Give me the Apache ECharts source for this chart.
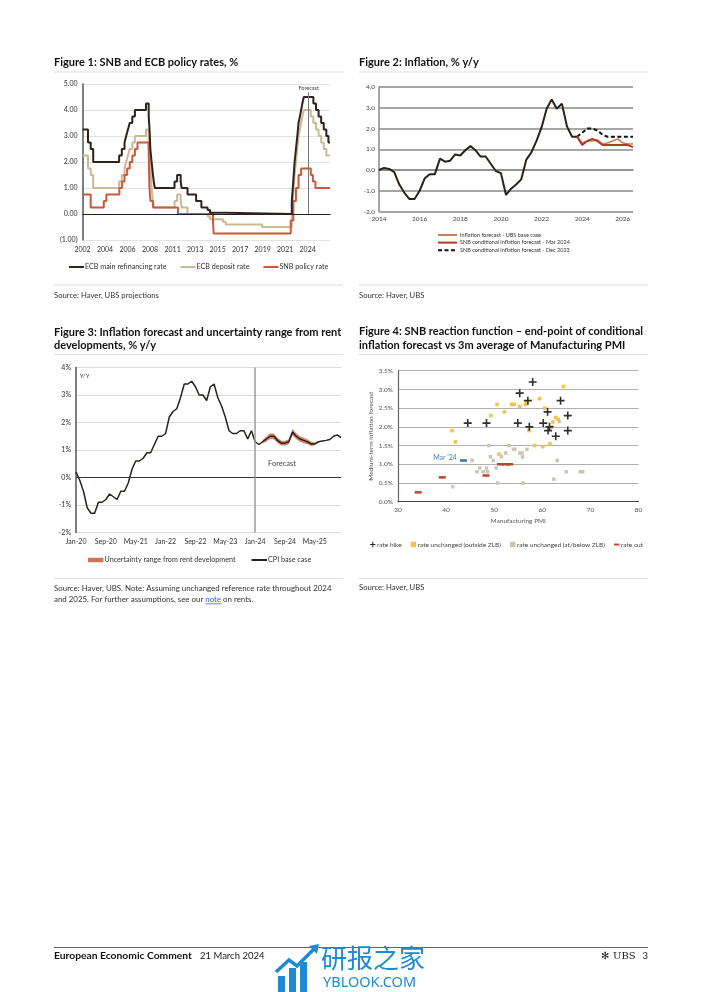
<!DOCTYPE html>
<html><head><meta charset="utf-8">
<script src="https://cdn.jsdelivr.net/npm/echarts@6/dist/echarts.min.js"></script>
<style>html,body{margin:0;padding:0;background:#fff}#c{width:702px;height:992px}</style>
</head><body><div id="c"></div>
<script>
// ================= Figure 1: policy rates [decimal year, rate %] at each change =================
const ecbMainRate = [
[2002.40,3.25],[2002.93,2.75],[2003.19,2.50],[2003.43,2.00],[2005.93,2.25],[2006.19,2.50],[2006.45,2.75],
[2006.61,3.00],[2006.78,3.25],[2006.95,3.50],[2007.20,3.75],[2007.45,4.00],[2008.52,4.25],[2008.78,3.75],
[2008.86,3.25],[2008.94,2.50],[2009.06,2.00],[2009.19,1.50],[2009.27,1.25],[2009.37,1.00],[2011.27,1.25],
[2011.52,1.50],[2011.86,1.25],[2011.95,1.00],[2012.52,0.75],[2013.35,0.50],[2013.86,0.25],[2014.45,0.15],
[2014.69,0.05],[2016.20,0.00],[2022.57,0.50],[2022.71,1.25],[2022.84,2.00],[2022.97,2.50],[2023.10,3.00],
[2023.22,3.50],[2023.35,3.75],[2023.47,4.00],[2023.59,4.25],[2023.72,4.50],[2024.65,4.25],[2024.90,4.00],
[2025.15,3.75],[2025.40,3.50],[2025.65,3.25],[2025.90,3.00],[2026.10,2.75],[2026.25,2.75]
];
const ecbDepositRate = [
[2002.40,2.25],[2002.93,1.75],[2003.19,1.50],[2003.43,1.00],[2005.93,1.25],[2006.19,1.50],[2006.45,1.75],
[2006.61,2.00],[2006.78,2.25],[2006.95,2.50],[2007.20,2.75],[2007.45,3.00],[2008.52,3.25],[2008.78,2.75],
[2008.94,2.00],[2009.06,1.00],[2009.19,0.50],[2009.27,0.25],[2011.27,0.50],[2011.52,0.75],[2011.86,0.50],
[2011.95,0.25],[2012.52,0.00],[2014.45,-0.10],[2014.69,-0.20],[2015.94,-0.30],[2016.20,-0.40],[2019.71,-0.50],
[2022.57,0.00],[2022.71,0.75],[2022.84,1.50],[2022.97,2.00],[2023.10,2.50],[2023.22,3.00],[2023.35,3.25],
[2023.47,3.50],[2023.59,3.75],[2023.72,4.00],[2024.40,3.75],[2024.65,3.50],[2024.90,3.25],[2025.15,3.00],
[2025.40,2.75],[2025.65,2.50],[2025.90,2.25],[2026.25,2.25]
];
const snbPolicyRate = [
[2002.40,0.75],[2003.19,0.25],[2004.45,0.50],[2004.70,0.75],[2005.95,1.00],[2006.20,1.25],[2006.45,1.50],
[2006.70,1.75],[2006.95,2.00],[2007.20,2.25],[2007.45,2.50],[2007.70,2.75],[2008.77,2.50],[2008.80,2.00],
[2008.85,1.00],[2008.95,0.50],[2009.20,0.25],[2011.60,0.00],[2014.97,-0.25],[2015.04,-0.75],[2022.47,-0.25],
[2022.72,0.50],[2022.97,1.00],[2023.22,1.50],[2023.47,1.75],[2024.40,1.50],[2024.60,1.25],[2024.85,1.00],
[2026.25,1.00]
];
const fig1TickLabels = ['2002','2004','2006','2008','2011','2013','2015','2017','2019','2021','2024'];
const fig1AxisStart = 2002.4, fig1TickStep = 2.17;
const fig1ForecastStart = 2024.2;

// ================= Figure 2: inflation % y/y, quarterly [decimal year, value] =================
const cpiActualQ = [
[2014.00,0.0],[2014.25,0.1],[2014.50,0.05],[2014.75,-0.1],[2015.00,-0.7],[2015.25,-1.1],[2015.50,-1.4],
[2015.75,-1.4],[2016.00,-1.0],[2016.25,-0.4],[2016.50,-0.2],[2016.75,-0.2],[2017.00,0.55],[2017.25,0.4],
[2017.50,0.45],[2017.75,0.75],[2018.00,0.7],[2018.25,0.95],[2018.50,1.15],[2018.75,0.95],[2019.00,0.65],
[2019.25,0.65],[2019.50,0.3],[2019.75,-0.05],[2020.00,-0.15],[2020.25,-1.2],[2020.50,-0.9],[2020.75,-0.7],
[2021.00,-0.45],[2021.25,0.5],[2021.50,0.85],[2021.75,1.4],[2022.00,2.05],[2022.25,2.95],[2022.50,3.4],
[2022.75,2.95],[2023.00,3.2],[2023.25,2.1],[2023.50,1.6],[2023.75,1.6]
];
const ubsBaseCase = [
[2023.75,1.6],[2024.00,1.3],[2024.25,1.4],[2024.50,1.4],[2024.75,1.45],[2025.00,1.25],[2025.25,1.3],
[2025.50,1.4],[2025.75,1.5],[2026.00,1.3],[2026.25,1.25],[2026.50,1.25]
];
const snbMar2024 = [
[2023.75,1.6],[2024.00,1.2],[2024.25,1.4],[2024.50,1.5],[2024.75,1.4],[2025.00,1.2],[2025.25,1.2],
[2025.50,1.2],[2025.75,1.2],[2026.00,1.2],[2026.25,1.2],[2026.50,1.1]
];
const snbDec2023 = [
[2023.75,1.6],[2024.00,1.8],[2024.25,2.0],[2024.50,2.0],[2024.75,1.9],[2025.00,1.7],[2025.25,1.6],
[2025.50,1.6],[2025.75,1.6],[2026.00,1.6],[2026.25,1.6],[2026.50,1.6]
];

// ================= Figure 3: monthly CPI base case and rent uncertainty range =================
const monthAbbr = ['Jan','Feb','Mar','Apr','May','Jun','Jul','Aug','Sep','Oct','Nov','Dec'];
const fig3Years = ['20','21','22','23','24','25'];
const fig3Months = [];
fig3Years.forEach(y => monthAbbr.forEach(m => fig3Months.push(m + '-' + y)));
const cpiBaseCase = [
0.2,-0.1,-0.5,-1.1,-1.3,-1.3,-0.9,-0.9,-0.8,-0.6,-0.7,-0.8,
-0.5,-0.5,-0.2,0.3,0.6,0.6,0.7,0.9,0.9,1.2,1.5,1.5,
1.6,2.2,2.4,2.5,2.9,3.4,3.4,3.5,3.3,3.0,3.0,2.8,
3.3,3.4,2.9,2.6,2.2,1.7,1.6,1.6,1.7,1.7,1.4,1.7,
1.3,1.2,1.3,1.4,1.5,1.5,1.35,1.25,1.25,1.3,1.65,1.5,
1.4,1.35,1.3,1.22,1.22,1.3,1.33,1.35,1.38,1.5,1.55,1.45
];
const rentBandMonths = ['Mar-24','Apr-24','May-24','Jun-24','Jul-24','Aug-24','Sep-24','Oct-24','Nov-24','Dec-24','Jan-25','Feb-25','Mar-25','Apr-25','May-25','Jun-25'];
const rentBandLow  = [1.24,1.31,1.40,1.39,1.25,1.16,1.16,1.21,1.54,1.40,1.30,1.25,1.21,1.15,1.17,1.27];
const rentBandHigh = [1.36,1.49,1.60,1.60,1.45,1.34,1.34,1.39,1.76,1.61,1.50,1.45,1.39,1.30,1.27,1.33];
const fig3ForecastStart = 'Jan-24';

// ================= Figure 4: [3m avg manufacturing PMI, medium-term inflation forecast %] =================
const rateHike = [
[44.5,2.1],[48.4,2.1],[55.3,2.9],[58.0,3.2],[57.0,2.7],[54.9,2.1],[57.3,2.0],[61.1,2.4],[63.8,2.7],
[60.2,2.1],[61.5,2.0],[61.2,1.9],[62.8,1.75],[65.3,2.3],[65.3,1.9]
];
const unchangedOutsideZLB = [
[41.2,1.9],[41.9,1.6],[49.3,2.3],[50.6,2.6],[52.1,2.4],[53.6,2.6],[54.2,2.6],[55.3,2.55],[56.5,2.6],
[56.8,2.65],[57.2,1.9],[58.4,1.5],[59.4,2.75],[60.1,1.47],[60.5,2.5],[61.6,1.55],[62.0,2.0],[62.2,2.13],
[62.8,2.25],[63.3,2.2],[64.4,3.08],[51.0,1.27]
];
const unchangedAtZLB = [
[41.4,0.4],[45.4,1.1],[46.4,0.8],[47.0,0.9],[47.7,0.8],[48.4,0.9],[48.6,0.8],[48.9,1.5],[49.2,1.2],
[49.8,1.1],[50.4,0.9],[50.7,0.5],[51.5,1.2],[52.4,1.3],[53.1,1.5],[54.0,1.4],[54.3,1.4],[55.3,1.3],
[55.8,1.3],[55.9,1.2],[56.0,0.5],[56.8,1.4],[62.4,0.6],[63.1,1.1],[63.5,2.14],[65.0,0.8],[67.9,0.8],[68.4,0.8]
];
const rateCut = [[34.2,0.25],[39.2,0.65],[48.3,0.7],[51.3,1.0],[52.4,1.0],[53.2,1.0]];
const latestPoint = [[43.6,1.1]];
const latestLabel = "Mar '24";

// ================= chart =================
const FONT = 'Lato';
const C = {
  ecbMain:'#2e231d', ecbDep:'#cbb994', snb:'#c65a3b',
  infl:'#2a221d', ubs:'#c98058', snbMar:'#ad3d25', dec:'#111',
  band:'#d07456', hike:'#2f2f2f', outside:'#f3c246', zlb:'#cdc4b8', cut:'#b5472c', mar:'#3e6ea7'
};
const chart = echarts.init(document.getElementById('c'), null, {renderer:'canvas'});

function txt(x, y, text, size, opts) {
  opts = opts || {};
  return { type:'text', x:x, y:y, silent:true, style:Object.assign({
    text:text, fill:opts.color || '#111', fontSize:size, fontFamily:opts.family || FONT,
    fontWeight:opts.weight || 'normal', align:opts.align || 'left', verticalAlign:'middle',
    textAlign:opts.align || 'left', textVerticalAlign:'middle'
  }, opts.extra || {}) };
}
function hline(x1, x2, y, color, w) {
  return { type:'line', silent:true, shape:{x1:x1, y1:y, x2:x2, y2:y}, style:{stroke:color, lineWidth:w || 1} };
}

// underline position for "note" link (text measurement only)
const SRC3 = 7.9;
const ctx = document.createElement('canvas').getContext('2d');
ctx.font = SRC3 + 'px ' + FONT;
const srcPre = 'and 2025. For further assumptions, see our ';
const noteX = 54 + ctx.measureText(srcPre).width;
const noteW = ctx.measureText('note').width;

const axisLabelBase = {color:'#333', fontFamily:FONT};
const hideSym = {opacity:0};

const option = {
  animation:false,
  textStyle:{fontFamily:FONT},
  grid:[
    {left:82.5, top:84, width:248, height:156},
    {left:379, top:87, width:254, height:124.5},
    {left:76, top:367.5, width:265, height:165},
    {left:398, top:370.7, width:240.5, height:131}
  ],
  xAxis:[
    {gridIndex:0, type:'value', min:fig1AxisStart, max:2026.3, interval:fig1TickStep,
     axisLine:{show:false}, axisTick:{show:false}, splitLine:{show:false},
     axisLabel:Object.assign({}, axisLabelBase, {fontSize:7, margin:6, showMaxLabel:false,
       formatter:function(v){ const k = Math.round((v - fig1AxisStart)/fig1TickStep);
         return (Math.abs(v - (fig1AxisStart + k*fig1TickStep)) < 0.01 && fig1TickLabels[k]) || ''; }})},
    {gridIndex:1, type:'value', min:2014, max:2026.5, interval:2,
     axisLine:{show:true, lineStyle:{color:'#8a8a8a', width:1.5}}, axisTick:{show:false}, splitLine:{show:false},
     axisLabel:Object.assign({}, axisLabelBase, {fontSize:6.5, margin:4, color:'#444',
       formatter:function(v){ return v % 2 === 0 ? String(v) : ''; }})},
    {gridIndex:2, type:'category', data:fig3Months, boundaryGap:false,
     axisLine:{show:false}, axisTick:{show:false}, splitLine:{show:false},
     axisLabel:Object.assign({}, axisLabelBase, {fontSize:7, margin:6, interval:7, color:'#333'})},
    {gridIndex:3, type:'value', min:30, max:80, interval:10,
     axisLine:{show:true, onZero:false, lineStyle:{color:'#444', width:1.2}}, axisTick:{show:false}, splitLine:{show:false},
     axisLabel:Object.assign({}, axisLabelBase, {fontSize:6.5, margin:5, color:'#555'}),
     name:'Manufacturing PMI', nameLocation:'middle', nameGap:16,
     nameTextStyle:{fontSize:6.5, color:'#555', fontFamily:FONT}}
  ],
  yAxis:[
    {gridIndex:0, type:'value', min:-1, max:5, interval:1,
     axisLine:{show:true, lineStyle:{color:'#555', width:1.5}}, axisTick:{show:false},
     splitLine:{lineStyle:{color:'#e2e2e2', width:1}},
     axisLabel:Object.assign({}, axisLabelBase, {fontSize:7, margin:5,
       formatter:function(v){ return v < 0 ? '(' + (-v).toFixed(2) + ')' : v.toFixed(2); }})},
    {gridIndex:1, type:'value', min:-2, max:4, interval:1,
     axisLine:{show:true, lineStyle:{color:'#8a8a8a', width:1.5}}, axisTick:{show:false},
     splitLine:{lineStyle:{color:'#8a8a8a', width:1.5}},
     axisLabel:Object.assign({}, axisLabelBase, {fontSize:6.5, margin:4, color:'#444',
       formatter:function(v){ return v.toFixed(1); }})},
    {gridIndex:2, type:'value', min:-2, max:4, interval:1,
     axisLine:{show:true, lineStyle:{color:'#555', width:1.5}}, axisTick:{show:false},
     splitLine:{lineStyle:{color:'#dadada', width:1}},
     axisLabel:Object.assign({}, axisLabelBase, {fontSize:7, margin:5, formatter:'{value}%'})},
    {gridIndex:3, type:'value', min:0, max:3.5, interval:0.5,
     axisLine:{show:true, lineStyle:{color:'#666', width:1.2}}, axisTick:{show:false},
     splitLine:{lineStyle:{color:'#b0b0b0', width:1}},
     axisLabel:Object.assign({}, axisLabelBase, {fontSize:6.5, margin:5, color:'#555',
       formatter:function(v){ return v.toFixed(1) + '%'; }}),
     name:'Medium-term inflation forecast', nameLocation:'middle', nameGap:22, nameRotate:90,
     nameTextStyle:{fontSize:6.5, color:'#555', fontFamily:FONT}}
  ],
  legend:[
    {left:68, top:263, itemWidth:15, itemHeight:10, itemGap:13, padding:0, itemStyle:hideSym,
     textStyle:{fontSize:7.2, color:'#333', fontFamily:FONT, padding:[0,0,0,-4]},
     data:['ECB main refinancing rate','ECB deposit rate','SNB policy rate']},
    {left:437, top:232, orient:'vertical', itemWidth:19, itemHeight:6, itemGap:1.6, padding:0, itemStyle:hideSym,
     textStyle:{fontSize:5.5, color:'#333', fontFamily:FONT, padding:[0,0,0,-2]},
     data:['Inflation forecast - UBS base case','SNB conditional inflation forecast - Mar 2024','SNB conditional inflation forecast - Dec 2023']},
    {left:88, top:556.5, itemWidth:15.5, itemHeight:4.5, itemGap:15, padding:0,
     textStyle:{fontSize:7.2, color:'#333', fontFamily:FONT, padding:[0,0,0,-4]},
     data:[{name:'Uncertainty range from rent development', icon:'rect', itemStyle:{color:C.band}},
           {name:'CPI base case', itemStyle:hideSym}]},
    {left:370, top:541, itemWidth:5.5, itemHeight:5.5, itemGap:9, padding:0,
     textStyle:{fontSize:6.5, color:'#444', fontFamily:FONT, padding:[0,0,0,-3.5]},
     data:['rate hike','rate unchanged (outside ZLB)','rate unchanged (at/below ZLB)',
       {name:'rate cut', icon:'path://M0,0H12V4H0Z'}]}
  ],
  series:[
    // ---- Figure 1 ----
    {name:'ECB deposit rate', type:'line', xAxisIndex:0, yAxisIndex:0, step:'end', symbol:'none',
     data:ecbDepositRate, lineStyle:{color:C.ecbDep, width:2}, itemStyle:{color:C.ecbDep}},
    {name:'SNB policy rate', type:'line', xAxisIndex:0, yAxisIndex:0, step:'end', symbol:'none',
     data:snbPolicyRate, lineStyle:{color:C.snb, width:2}, itemStyle:{color:C.snb}},
    {name:'ECB main refinancing rate', type:'line', xAxisIndex:0, yAxisIndex:0, step:'end', symbol:'none',
     data:ecbMainRate, lineStyle:{color:C.ecbMain, width:2}, itemStyle:{color:C.ecbMain},
     markLine:{silent:true, symbol:'none', animation:false,
       data:[
         {yAxis:0, lineStyle:{color:'#222', width:1, type:'solid'}, label:{show:false}},
         [{coord:[fig1ForecastStart, 0], lineStyle:{color:'#777', width:1, type:'solid'}, label:{show:false}},
          {coord:[fig1ForecastStart, 4.68]}],
         [{coord:[fig1ForecastStart, 4.68], lineStyle:{color:'#777', width:0.01, type:'solid'},
           label:{show:true, position:'end', formatter:'Forecast', fontSize:5.5, color:'#444', distance:1, fontFamily:FONT}},
          {coord:[fig1ForecastStart, 4.69]}]
       ]}},
    // ---- Figure 2 ----
    {name:'Inflation', type:'line', xAxisIndex:1, yAxisIndex:1, symbol:'none', data:cpiActualQ,
     lineStyle:{color:C.infl, width:2}, itemStyle:{color:C.infl}},
    {name:'SNB conditional inflation forecast - Dec 2023', type:'line', xAxisIndex:1, yAxisIndex:1, symbol:'none',
     data:snbDec2023, lineStyle:{color:C.dec, width:2, type:[4,2.5]}, itemStyle:{color:C.dec}},
    {name:'Inflation forecast - UBS base case', type:'line', xAxisIndex:1, yAxisIndex:1, symbol:'none',
     data:ubsBaseCase, lineStyle:{color:C.ubs, width:1.6}, itemStyle:{color:C.ubs}},
    {name:'SNB conditional inflation forecast - Mar 2024', type:'line', xAxisIndex:1, yAxisIndex:1, symbol:'none',
     data:snbMar2024, lineStyle:{color:C.snbMar, width:2}, itemStyle:{color:C.snbMar}},
    // ---- Figure 3 ----
    {name:'bandBase', type:'line', xAxisIndex:2, yAxisIndex:2, stack:'rent', symbol:'none',
     data:rentBandMonths.map((m,i)=>[m, rentBandLow[i]]), lineStyle:{width:0, opacity:0}, areaStyle:{opacity:0}},
    {name:'Uncertainty range from rent development', type:'line', xAxisIndex:2, yAxisIndex:2, stack:'rent', symbol:'none',
     data:rentBandMonths.map((m,i)=>[m, +(rentBandHigh[i]-rentBandLow[i]).toFixed(3)]),
     lineStyle:{width:0, opacity:0}, areaStyle:{color:C.band, opacity:0.9}, itemStyle:{color:C.band}},
    {name:'CPI base case', type:'line', xAxisIndex:2, yAxisIndex:2, symbol:'none', data:cpiBaseCase,
     lineStyle:{color:C.infl, width:1.5}, itemStyle:{color:C.infl},
     markLine:{silent:true, symbol:'none', animation:false,
       data:[
         {yAxis:0, lineStyle:{color:'#333', width:1, type:'solid'}, label:{show:false}},
         {xAxis:fig3ForecastStart, lineStyle:{color:'#9a9a9a', width:1.5, type:'solid'}, label:{show:false}}
       ]}},
    // ---- Figure 4 ----
    {name:'rate unchanged (at/below ZLB)', type:'scatter', xAxisIndex:3, yAxisIndex:3, symbol:'rect', symbolSize:3.5,
     data:unchangedAtZLB, itemStyle:{color:C.zlb, opacity:1}},
    {name:'rate unchanged (outside ZLB)', type:'scatter', xAxisIndex:3, yAxisIndex:3, symbol:'rect', symbolSize:3.5,
     data:unchangedOutsideZLB, itemStyle:{color:C.outside, opacity:1}},
    {name:'rate cut', type:'scatter', xAxisIndex:3, yAxisIndex:3, symbol:'rect', symbolSize:[7,2.5],
     data:rateCut, itemStyle:{color:C.cut, opacity:1}},
    {name:'rate hike', type:'scatter', xAxisIndex:3, yAxisIndex:3,
     symbol:'path://M3.6,0H5.4V3.6H9V5.4H5.4V9H3.6V5.4H0V3.6H3.6Z', symbolSize:8,
     data:rateHike, itemStyle:{color:C.hike, opacity:1}},
    {name:'latest', type:'scatter', xAxisIndex:3, yAxisIndex:3, symbol:'rect', symbolSize:[7,2.5],
     data:latestPoint, itemStyle:{color:C.mar, opacity:1},
     label:{show:true, position:'left', distance:3, offset:[0,-3], formatter:latestLabel,
       fontSize:7, color:'#4f82c6', fontFamily:FONT}}
  ],
  graphic:[
    // titles
    txt(54, 62.5, 'Figure 1: SNB and ECB policy rates, %', 11, {weight:'bold'}),
    txt(359, 62.5, 'Figure 2: Inflation, % y/y', 11, {weight:'bold'}),
    txt(54, 332, 'Figure 3: Inflation forecast and uncertainty range from rent', 11, {weight:'bold'}),
    txt(54, 345.5, 'developments, % y/y', 11, {weight:'bold'}),
    txt(359, 331.5, 'Figure 4: SNB reaction function \u2013 end-point of conditional', 11, {weight:'bold'}),
    txt(359, 345, 'inflation forecast vs 3m average of Manufacturing PMI', 11, {weight:'bold'}),
    // separators
    hline(54, 343, 72, '#dcdcdc'), hline(359, 648, 72, '#dcdcdc'),
    hline(54, 343, 354.5, '#dcdcdc'), hline(359, 648, 354.5, '#dcdcdc'),
    hline(54, 343, 285, '#dcdcdc'), hline(359, 648, 285, '#dcdcdc'),
    hline(54, 343, 578.5, '#dcdcdc'), hline(359, 648, 578.5, '#dcdcdc'),
    // in-chart notes
    txt(80, 375, 'y/y', 6.5, {color:'#444'}),
    txt(268, 463.5, 'Forecast', 7.5, {color:'#444'}),
    // sources
    txt(54, 295.5, 'Source: Haver, UBS projections', 7.7, {color:'#333'}),
    txt(359, 295.5, 'Source: Haver, UBS', 7.7, {color:'#333'}),
    txt(54, 588, 'Source: Haver, UBS. Note: Assuming unchanged reference rate throughout 2024', SRC3, {color:'#333'}),
    txt(54, 599.5, srcPre + '{n|note} on rents.', SRC3, {color:'#333', extra:{rich:{n:{fill:'#2f56c9', fontSize:SRC3, fontFamily:FONT}}}}),
    hline(noteX, noteX + noteW, 603.8, '#2f56c9', 0.7),
    txt(359, 588, 'Source: Haver, UBS', 7.7, {color:'#333'}),
    // footer
    hline(54, 648, 947.5, '#666', 1),
    txt(54, 956, 'European Economic Comment', 10.3, {weight:'bold'}),
    txt(200, 956, '21 March 2024', 9.5, {color:'#222'}),
    txt(601, 956, '\u273B', 10, {color:'#222', family:'DejaVu Sans'}),
    txt(613, 956, 'UBS', 10, {color:'#222', family:'DejaVu Serif'}),
    txt(648, 956, '3', 9.5, {color:'#222', align:'right'}),
    // watermark
    {type:'rect', silent:true, shape:{x:278, y:976, width:7, height:16}, style:{fill:'#1f8ad3'}},
    {type:'rect', silent:true, shape:{x:289, y:968, width:7, height:24}, style:{fill:'#1f8ad3'}},
    {type:'rect', silent:true, shape:{x:300, y:962, width:7, height:30}, style:{fill:'#1f8ad3'}},
    {type:'polyline', silent:true, shape:{points:[[276,972],[289,960],[297,966],[316,947]]},
     style:{stroke:'#1f8ad3', lineWidth:3.5, fill:null}},
    {type:'polygon', silent:true, shape:{points:[[309,946],[319,944],[317,954]]}, style:{fill:'#1f8ad3'}},
    txt(321, 958, '研报之家', 26, {color:'#1f8ad3', family:'Noto Sans CJK SC'}),
    txt(323, 983, 'YBLOOK.COM', 14.5, {color:'#1f8ad3', family:'Noto Sans'})
  ]
};
chart.setOption(option);
</script>
</body></html>
